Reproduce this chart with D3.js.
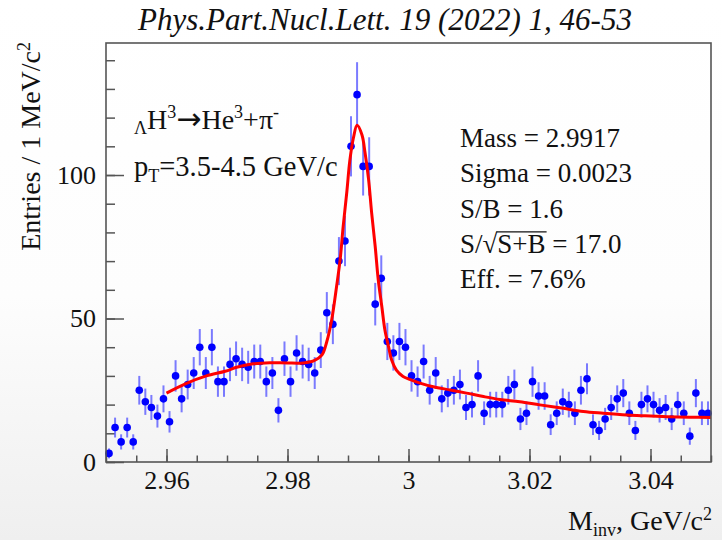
<!DOCTYPE html>
<html>
<head>
<meta charset="UTF-8"/>
<title>Hypertriton invariant mass</title>
<script src="https://cdn.jsdelivr.net/npm/d3@7"></script>
<style>
body { margin: 0; background: #fff; }
svg { display: block; }
text { font-family: 'Liberation Serif', 'Times New Roman', serif; fill: #111; }
.axis line { stroke: #555; stroke-width: 1.5; }
.axis text { font-size: 26px; font-family: 'Liberation Serif', serif; fill: #111; }
.errbar { stroke: #5a5aff; stroke-opacity: 0.8; stroke-width: 2; }
.marker { fill: #0000ff; }
.fit { fill: none; stroke: #ff0000; stroke-width: 3; }
.frame { fill: none; stroke: #555; stroke-width: 1.6; }
</style>
</head>
<body>
<svg width="722" height="540"></svg>
<script>
// histogram: 100 bins of 1 MeV between 2.95 and 3.05
const binLow = 2.95;
const binWidth = 0.001;
const counts = [
  3, 12, 7, 12, 7, 25, 21, 19, 16, 22,
  14, 30, 22, 27, 31, 40, 31, 40, 28, 28,
  34, 36, 34, 33, 35, 35, 28, 31, 18, 36,
  28, 38, 35, 34, 31, 39, 52, 48, 70, 77,
  110, 128, 103, 103, 55, 64, 42, 38, 42, 40,
  30, 28, 35, 25, 31, 22, 24, 25, 27, 19,
  20, 30, 17, 20, 20, 20, 25, 27, 15, 17,
  28, 23, 23, 13, 17, 21, 20, 17, 25, 29,
  13, 11, 15, 19, 22, 24, 17, 11, 20, 22,
  20, 18, 19, 15, 20, 17, 9, 24, 17, 17
];

// fit curve
const fitMass = [2.9600, 2.9633, 2.9666, 2.9697, 2.9716, 2.9743, 2.9771, 2.9799, 2.9826, 2.9843,
  2.9857, 2.9865, 2.9873, 2.9881, 2.9887, 2.9892, 2.9898, 2.9903, 2.9909, 2.9915,
  2.9923, 2.9928, 2.9934, 2.9939, 2.9945, 2.9950, 2.9956, 2.9961, 2.9967, 2.9972,
  2.9980, 2.9991, 3.0002, 3.0019, 3.0041, 3.0069, 3.0096, 3.0124, 3.0151, 3.0184,
  3.0217, 3.0253, 3.0289, 3.0322, 3.0361, 3.0391, 3.0427, 3.0465, 3.0500];
const fitValue = [24.0, 27.4, 30.0, 31.6, 33.0, 34.2, 34.6, 34.5, 34.5, 35.2,
  37.3, 42.0, 49.5, 61.0, 70.5, 82, 94, 105, 113, 117.3,
  114, 108, 98.5, 87, 75, 63.5, 54, 46, 40.2, 35.6,
  32, 29.8, 28.8, 27.5, 26.2, 25.1, 24, 22.8, 21.8, 21,
  19.9, 18.8, 17.6, 17, 16.4, 16.1, 15.8, 15.6, 15.5];

const xMajor = [2.96, 2.98, 3.00, 3.02, 3.04];
const yMajor = [0, 50, 100];
const statLines = ['Mass = 2.9917', 'Sigma = 0.0023', 'S/B = 1.6', 'S/√S+B = 17.0', 'Eff. = 7.6%'];

const svg = d3.select('svg');

// soft page gradient
const grad = svg.append('defs').append('linearGradient')
  .attr('id', 'bg').attr('x1', 0).attr('y1', 0).attr('x2', 0).attr('y2', 1);
grad.append('stop').attr('offset', '0%').attr('stop-color', '#ffffff');
grad.append('stop').attr('offset', '55%').attr('stop-color', '#fdfdfd');
grad.append('stop').attr('offset', '100%').attr('stop-color', '#efefef');
svg.append('rect').attr('width', 722).attr('height', 540).attr('fill', 'url(#bg)');

const pLeft = 106, pRight = 711, pTop = 43, pBottom = 462;

const x = d3.scaleLinear().domain([2.95, 3.05]).range([pLeft, pRight]);
const y = d3.scaleLinear().domain([0, 146]).range([pBottom, pTop]);

// axes, ROOT style ticks pointing inwards
svg.append('g').attr('class', 'axis')
  .attr('transform', `translate(0,${pBottom})`)
  .call(d3.axisBottom(x).tickValues(xMajor).tickSize(-13).tickSizeOuter(0).tickPadding(9)
    .tickFormat(d => String(+d.toFixed(2))));
svg.append('g').attr('class', 'axis')
  .attr('transform', `translate(0,${pBottom})`)
  .call(d3.axisBottom(x).tickValues(d3.range(0, 21).map(i => 2.95 + i * 0.005))
    .tickSize(-6.5).tickSizeOuter(0).tickFormat(''));

svg.append('g').attr('class', 'axis')
  .attr('transform', `translate(${pLeft},0)`)
  .call(d3.axisLeft(y).tickValues(yMajor).tickSize(-18).tickSizeOuter(0).tickPadding(10));
svg.append('g').attr('class', 'axis')
  .attr('transform', `translate(${pLeft},0)`)
  .call(d3.axisLeft(y).tickValues(d3.range(0, 150, 10)).tickSize(-9).tickSizeOuter(0).tickFormat(''));

svg.selectAll('.axis .domain').remove();

// data points
const bins = counts.map((c, i) => ({ m: binLow + (i + 0.5) * binWidth, v: c, e: Math.sqrt(c) }));

svg.append('g').selectAll('line')
  .data(bins)
  .join('line')
  .attr('class', 'errbar')
  .attr('x1', d => x(d.m)).attr('x2', d => x(d.m))
  .attr('y1', d => y(d.v - d.e)).attr('y2', d => y(Math.min(d.v + d.e, 146)));

svg.append('g').selectAll('circle')
  .data(bins)
  .join('circle')
  .attr('class', 'marker')
  .attr('cx', d => x(d.m)).attr('cy', d => y(d.v))
  .attr('r', 3.8);

// fit
const fitPts = fitMass.map((m, i) => [m, fitValue[i]]);
svg.append('path')
  .datum(fitPts)
  .attr('class', 'fit')
  .attr('d', d3.line().x(d => x(d[0])).y(d => y(d[1])).curve(d3.curveCatmullRom.alpha(0.5)));

svg.append('rect').attr('class', 'frame')
  .attr('x', pLeft).attr('y', pTop).attr('width', pRight - pLeft).attr('height', pBottom - pTop);

// title
svg.append('text')
  .attr('x', 385).attr('y', 30)
  .attr('text-anchor', 'middle')
  .attr('font-style', 'italic')
  .attr('font-size', 31)
  .attr('textLength', 494).attr('lengthAdjust', 'spacingAndGlyphs')
  .text('Phys.Part.Nucl.Lett. 19 (2022) 1, 46-53');

// axis titles
const yt = svg.append('text')
  .attr('transform', 'translate(40,42) rotate(-90)')
  .attr('text-anchor', 'end')
  .attr('font-size', 28);
yt.append('tspan').text('Entries / 1 MeV/c');
yt.append('tspan').attr('font-size', 18).attr('dy', -10).text('2');

const xt = svg.append('text')
  .attr('x', 712).attr('y', 530)
  .attr('text-anchor', 'end')
  .attr('font-size', 28);
xt.append('tspan').text('M');
xt.append('tspan').attr('font-size', 18).attr('dy', 6).text('inv');
xt.append('tspan').attr('dy', -6).text(', GeV/c');
xt.append('tspan').attr('font-size', 18).attr('dy', -10).text('2');

// decay label
const dec = svg.append('text').attr('x', 134).attr('y', 129).attr('font-size', 28);
dec.append('tspan').attr('font-size', 18).attr('dy', 5).text('Λ');
dec.append('tspan').attr('dy', -5).text('H');
dec.append('tspan').attr('font-size', 18).attr('dy', -11).text('3');
dec.append('tspan').attr('dy', 11).attr('font-family', 'DejaVu Sans').attr('font-size', 30).text('→');
dec.append('tspan').text('He');
dec.append('tspan').attr('font-size', 18).attr('dy', -11).text('3');
dec.append('tspan').attr('dy', 11).text('+π');
dec.append('tspan').attr('font-size', 18).attr('dy', -11).text('-');

const pt = svg.append('text').attr('x', 134).attr('y', 176).attr('font-size', 28.5);
pt.append('tspan').text('p');
pt.append('tspan').attr('font-size', 18).attr('dy', 6).text('T');
pt.append('tspan').attr('dy', -6).text('=3.5-4.5 GeV/c');

// fit results
const stats = svg.append('g');
stats.selectAll('text')
  .data(statLines)
  .join('text')
  .attr('x', 460)
  .attr('y', (d, i) => 147 + i * 35.3)
  .attr('font-size', 27)
  .text(d => d);

// overbar of the square root
const rootNode = stats.selectAll('text').nodes()[3];
const s = statLines[3];
const iRad = s.indexOf('√');
const iEnd = s.indexOf('B', iRad);
const radBox = rootNode.getExtentOfChar(iRad);
const endX = rootNode.getEndPositionOfChar(iEnd).x;
stats.append('line')
  .attr('x1', radBox.x + radBox.width - 1).attr('x2', endX + 1)
  .attr('y1', radBox.y + 3).attr('y2', radBox.y + 3)
  .attr('stroke', '#111').attr('stroke-width', 1.3);
</script>
</body>
</html>
